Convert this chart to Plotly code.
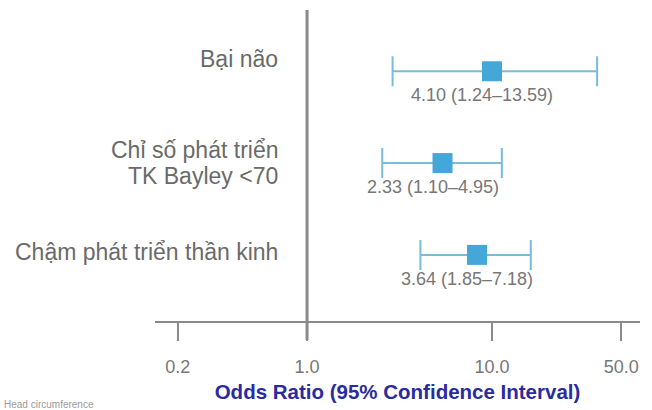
import math
import plotly.graph_objects as go

# Categories (top to bottom)
categories = ["Bại não", "Chỉ số phát triển<br>TK Bayley <70", "Chậm phát triển thần kinh"]
row_pos = [3, 2, 1]

# Odds ratio positions as drawn on the axis
or_point = [10.0, 5.4, 8.3]
ci_low = [2.9, 2.55, 4.1]
ci_high = [37.0, 11.3, 16.2]

# Value labels printed under each estimate
value_labels = ["4.10 (1.24–13.59)", "2.33 (1.10–4.95)", "3.64 (1.85–7.18)"]

tick_vals = [0.2, 1.0, 10.0, 50.0]
tick_text = ["0.2", "1.0", "10.0", "50.0"]

FONT = "Liberation Sans, Arial"

fig = go.Figure()

fig.add_trace(go.Scatter(
    x=or_point, y=row_pos, mode="markers",
    marker=dict(symbol="square", size=20, color="#45a6d8"),
    error_x=dict(type="data", symmetric=False,
                 array=[h - p for h, p in zip(ci_high, or_point)],
                 arrayminus=[p - l for p, l in zip(or_point, ci_low)],
                 color="#79bcd9", thickness=2, width=15),
    showlegend=False, hoverinfo="skip",
))

annotations = []
label_y_shift = [12, 0, 3]
line_gap = 26
for cat, y, sh in zip(categories, row_pos, label_y_shift):
    lines = cat.split("<br>")
    n = len(lines)
    for i, ln in enumerate(lines):
        off = ((n - 1) / 2 - i) * line_gap
        annotations.append(dict(
            x=0.257, xref="paper", y=y, yref="y", yshift=sh + off,
            text=ln, showarrow=False, xanchor="right", yanchor="middle",
            align="right", font=dict(family=FONT, size=23, color="#6a6a6a"),
        ))
for lab, xv, y in zip(value_labels, or_point, row_pos):
    annotations.append(dict(
        x=math.log10(xv), xref="x", y=y, yref="y", yshift=-24, xshift=-10,
        text=lab, showarrow=False, xanchor="center", yanchor="middle",
        font=dict(family=FONT, size=18, color="#777777"),
    ))
annotations.append(dict(
    x=-0.316, xref="paper", y=-0.245, yref="paper", text="Head circumference",
    showarrow=False, xanchor="left", yanchor="top",
    font=dict(family=FONT, size=10, color="#9a9a9a"),
))

fig.add_shape(type="line", x0=1.0, x1=1.0, xref="x", y0=-0.06, y1=1.0, yref="paper",
              line=dict(color="#8a8a8a", width=3), layer="below")

fig.update_layout(
    width=652, height=410,
    margin=dict(l=155, r=12, t=10, b=86),
    paper_bgcolor="white", plot_bgcolor="white",
    annotations=annotations,
    xaxis=dict(
        type="log", range=[-0.822, 1.80],
        tickvals=tick_vals, ticktext=tick_text,
        ticks="outside", ticklen=18, tickwidth=2, tickcolor="#8a8a8a",
        showline=True, linecolor="#8a8a8a", linewidth=2,
        showgrid=False, zeroline=False,
        tickfont=dict(family=FONT, size=18, color="#777777"),
        ticklabelstandoff=10,
        title=dict(text="<b>Odds Ratio (95% Confidence Interval)</b>",
                   font=dict(family=FONT, size=20.5, color="#2b2ba0"),
                   standoff=9),
    ),
    yaxis=dict(range=[0.28, 3.667], visible=False, showgrid=False, zeroline=False),
)

fig.write_html("out.html")
